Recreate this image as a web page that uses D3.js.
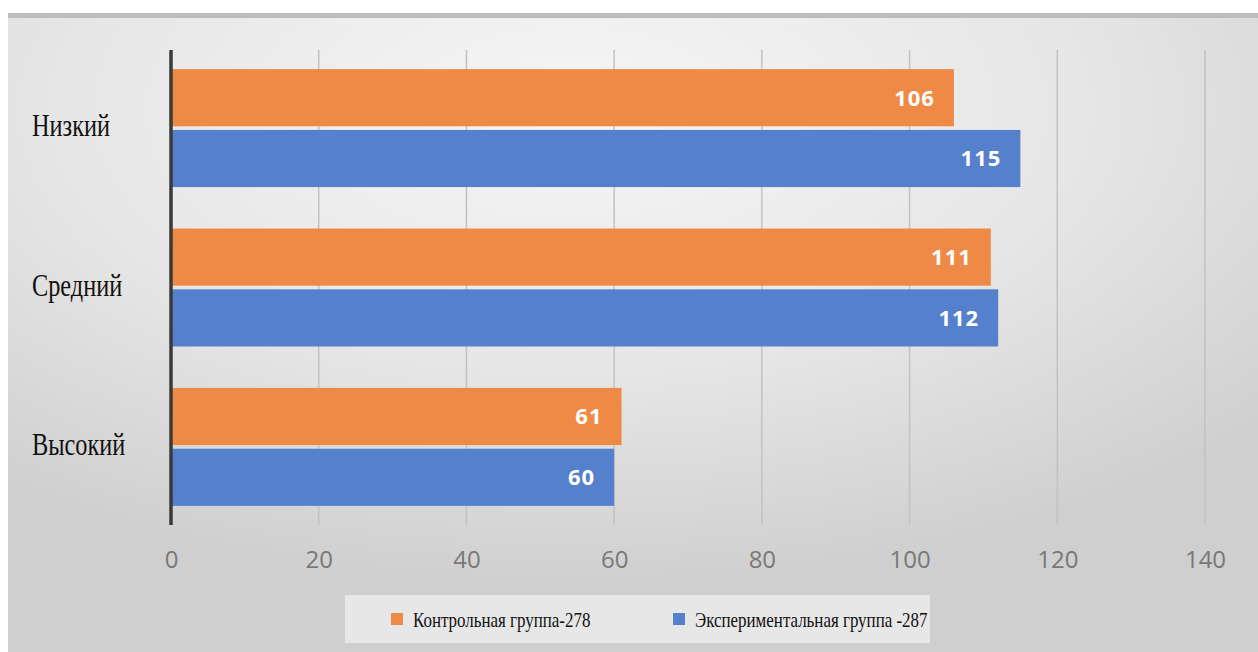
<!DOCTYPE html>
<html>
<head>
<meta charset="utf-8">
<script src="https://cdn.jsdelivr.net/npm/d3@7"></script>
<style>
  body { margin: 0; background: #fff; }
  svg { display: block; }
</style>
</head>
<body>
<div id="chart"></div>
<script>
// data
let categories = ["Низкий", "Средний", "Высокий"];
let seriesNames = ["Контрольная группа-278", "Экспериментальная группа -287"];
let control = [106, 111, 61];
let experimental = [115, 112, 60];
let xTicks = [0, 20, 40, 60, 80, 100, 120, 140];
let colors = ["#ee8a45", "#5580cc"];

let W = 1258, H = 652;
let margin = {top: 50, right: 53, bottom: 127, left: 171};

let svg = d3.select("#chart")
    .append("svg")
    .attr("width", W)
    .attr("height", H);

// background
let defs = svg.append("defs");
let grad = defs.append("radialGradient")
    .attr("id", "bg")
    .attr("cx", "45%").attr("cy", "15%")
    .attr("r", "75%");
grad.append("stop").attr("offset", "0%").attr("stop-color", "#f6f6f6");
grad.append("stop").attr("offset", "55%").attr("stop-color", "#e6e6e6");
grad.append("stop").attr("offset", "100%").attr("stop-color", "#cfcfcf");

svg.append("rect")
    .attr("x", 8).attr("y", 13)
    .attr("width", W - 8).attr("height", H - 13)
    .attr("fill", "url(#bg)");
svg.append("rect")
    .attr("x", 8).attr("y", 13)
    .attr("width", W - 8).attr("height", 5)
    .attr("fill", "#bcbcbc");

let xScale = d3.scaleLinear().domain([0, 140]).range([margin.left, W - margin.right]);
let yScale = d3.scaleBand().domain(categories)
    .range([margin.top, H - margin.bottom])
    .paddingInner(0.26).paddingOuter(0.12);
let ySub = d3.scaleBand().domain([0, 1])
    .range([0, yScale.bandwidth()])
    .paddingInner(0.06);

// gridlines
svg.append("g")
    .selectAll("line")
    .data(xTicks.slice(1))
    .join("line")
    .attr("x1", d => xScale(d)).attr("x2", d => xScale(d))
    .attr("y1", margin.top).attr("y2", H - margin.bottom)
    .attr("stroke", "#c2c2c2")
    .attr("stroke-width", 1.5);

// bars
let rows = categories.map((c, i) => ({cat: c, vals: [control[i], experimental[i]]}));
let groups = svg.append("g")
    .selectAll("g")
    .data(rows)
    .join("g")
    .attr("transform", d => "translate(0," + yScale(d.cat) + ")");

groups.selectAll("rect")
    .data(d => d.vals.map((v, j) => ({v: v, j: j})))
    .join("rect")
    .attr("x", xScale(0))
    .attr("y", d => ySub(d.j))
    .attr("width", d => xScale(d.v) - xScale(0))
    .attr("height", ySub.bandwidth())
    .attr("fill", d => colors[d.j]);

groups.selectAll("text")
    .data(d => d.vals.map((v, j) => ({v: v, j: j})))
    .join("text")
    .attr("x", d => xScale(d.v) - 19)
    .attr("y", d => ySub(d.j) + ySub.bandwidth() / 2)
    .attr("dy", "0.36em")
    .attr("text-anchor", "end")
    .attr("fill", "#fff")
    .attr("font-family", "'Open Sans', sans-serif")
    .attr("font-weight", "bold")
    .attr("font-size", 22)
    .attr("letter-spacing", 1)
    .text(d => d.v);

// y axis line
svg.append("line")
    .attr("x1", xScale(0)).attr("x2", xScale(0))
    .attr("y1", margin.top).attr("y2", H - margin.bottom)
    .attr("stroke", "#3a3a3a")
    .attr("stroke-width", 3.5);

// x axis labels
let xAxis = d3.axisBottom(xScale).tickValues(xTicks).tickSize(0).tickPadding(26);
let xg = svg.append("g")
    .attr("transform", "translate(0," + (H - margin.bottom) + ")")
    .call(xAxis);
xg.select(".domain").remove();
xg.selectAll("text")
    .attr("fill", "#787878")
    .attr("font-family", "'Open Sans', sans-serif")
    .attr("font-size", 24);

// category labels
svg.append("g")
    .selectAll("text")
    .data(categories)
    .join("text")
    .attr("transform", d => "translate(32," + (yScale(d) + yScale.bandwidth() / 2 - 3) + ") scale(0.76,1)")
    .attr("dy", "0.35em")
    .attr("fill", "#111")
    .attr("font-family", "'Liberation Serif', 'Times New Roman', serif")
    .attr("font-size", 32)
    .text(d => d);

// legend
let legend = svg.append("g");
legend.append("rect")
    .attr("x", 345).attr("y", 595)
    .attr("width", 585).attr("height", 48)
    .attr("fill", "#ececec")
    .attr("opacity", 0.8);
let legendX = [391, 673];
seriesNames.forEach((name, i) => {
    legend.append("rect")
        .attr("x", legendX[i]).attr("y", 613)
        .attr("width", 12).attr("height", 12)
        .attr("fill", colors[i]);
    legend.append("text")
        .attr("transform", "translate(" + (legendX[i] + 22) + ",619) scale(0.77,1)")
        .attr("dy", "0.35em")
        .attr("fill", "#111")
        .attr("font-family", "'Liberation Serif', 'Times New Roman', serif")
        .attr("font-size", 22)
        .text(name);
});
</script>
</body>
</html>
